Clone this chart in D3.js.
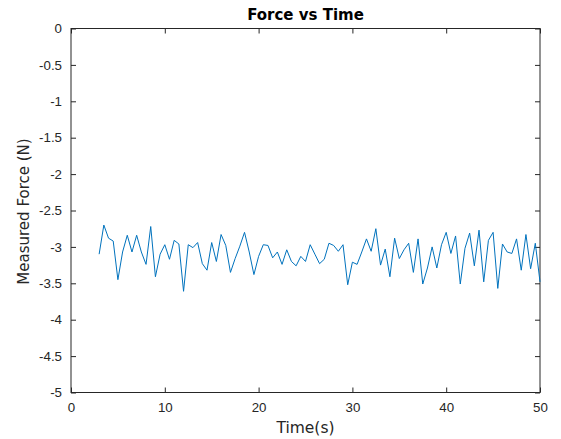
<!DOCTYPE html>
<html>
<head>
<meta charset="utf-8">
<script src="https://cdn.jsdelivr.net/npm/d3@7"></script>
<style>
  body { margin: 0; background: #fff; }
  svg { font-family: "DejaVu Sans", sans-serif; }
</style>
</head>
<body>
<div id="chart"></div>
<script>
// data
const times = [3, 3.5, 4, 4.5, 5, 5.5, 6, 6.5, 7, 7.5, 8, 8.5, 9, 9.5, 10, 10.5, 11, 11.5, 12, 12.5,
  13, 13.5, 14, 14.5, 15, 15.5, 16, 16.5, 17, 17.5, 18, 18.5, 19, 19.5, 20, 20.5, 21, 21.5, 22, 22.5,
  23, 23.5, 24, 24.5, 25, 25.5, 26, 26.5, 27, 27.5, 28, 28.5, 29, 29.5, 30, 30.5, 31, 31.5, 32, 32.5,
  33, 33.5, 34, 34.5, 35, 35.5, 36, 36.5, 37, 37.5, 38, 38.5, 39, 39.5, 40, 40.5, 41, 41.5, 42, 42.5,
  43, 43.5, 44, 44.5, 45, 45.5, 46, 46.5, 47, 47.5, 48, 48.5, 49, 49.5, 50];
const force = [-3.10, -2.70, -2.88, -2.92, -3.45, -3.07, -2.84, -3.07, -2.84, -3.07,
  -3.24, -2.72, -3.41, -3.10, -2.97, -3.17, -2.91, -2.96, -3.61, -2.97,
  -3.01, -2.94, -3.23, -3.32, -2.94, -3.20, -2.83, -2.98, -3.35, -3.16,
  -2.99, -2.80, -3.07, -3.38, -3.13, -2.97, -2.98, -3.15, -3.07, -3.24,
  -3.04, -3.20, -3.26, -3.13, -3.20, -2.97, -3.10, -3.23, -3.17, -2.95,
  -2.98, -3.06, -2.97, -3.52, -3.21, -3.24, -3.07, -2.89, -3.06, -2.75,
  -3.25, -3.03, -3.41, -2.88, -3.16, -3.04, -2.95, -3.35, -2.89, -3.51,
  -3.29, -3.00, -3.29, -2.97, -2.80, -3.09, -2.85, -3.51, -3.02, -2.81,
  -3.26, -2.77, -3.48, -2.91, -2.80, -3.57, -2.96, -3.07, -3.09, -2.89,
  -3.32, -2.83, -3.30, -2.95, -3.48];
const xTicks = [0, 10, 20, 30, 40, 50];
const yTicks = [0, -0.5, -1, -1.5, -2, -2.5, -3, -3.5, -4, -4.5, -5];

const width = 561;
const height = 439;
const margin = {top: 28.5, right: 21, bottom: 46.5, left: 71};
const xMax = width - margin.left - margin.right;
const yMax = height - margin.top - margin.bottom;
const axisColor = "#262626";

const svg = d3.select("#chart")
  .append("svg")
  .attr("width", width)
  .attr("height", height);

const g = svg.append("g")
  .attr("transform", "translate(" + margin.left + "," + margin.top + ")");

const x = d3.scaleLinear().domain([0, 50]).range([0, xMax]);
const y = d3.scaleLinear().domain([-5, 0]).range([yMax, 0]);

// axes, ticks pointing inward like matlab
function styleAxis(sel) {
  sel.select(".domain").remove();
  sel.selectAll(".tick line").attr("stroke", axisColor);
  sel.selectAll(".tick text").attr("fill", axisColor).style("font-size", "13.3px");
}

// plain hyphen for minus, like the original
const plain = function (d) { return String(d); };

g.append("g")
  .attr("transform", "translate(0," + yMax + ")")
  .call(d3.axisBottom(x).tickValues(xTicks).tickFormat(plain).tickSizeInner(-5).tickSizeOuter(0).tickPadding(10))
  .call(styleAxis);

g.append("g")
  .call(d3.axisLeft(y).tickValues(yTicks).tickFormat(plain).tickSizeInner(-5).tickSizeOuter(0).tickPadding(9))
  .call(styleAxis);

g.append("g")
  .call(d3.axisTop(x).tickValues(xTicks).tickSizeInner(-5).tickSizeOuter(0).tickFormat(""))
  .call(styleAxis);

g.append("g")
  .attr("transform", "translate(" + xMax + ",0)")
  .call(d3.axisRight(y).tickValues(yTicks).tickSizeInner(-5).tickSizeOuter(0).tickFormat(""))
  .call(styleAxis);

// box
g.append("rect")
  .attr("x", 0)
  .attr("y", 0)
  .attr("width", xMax)
  .attr("height", yMax)
  .attr("fill", "none")
  .attr("stroke", axisColor)
  .attr("stroke-width", 1);

// line
const line = d3.line()
  .x(function (d, i) { return x(times[i]); })
  .y(function (d) { return y(d); });

g.append("path")
  .datum(force)
  .attr("d", line)
  .attr("fill", "none")
  .attr("stroke", "#0072BD")
  .attr("stroke-width", 1);

// labels
svg.append("text")
  .attr("x", margin.left + xMax / 2)
  .attr("y", 20)
  .attr("text-anchor", "middle")
  .style("font-size", "15px")
  .style("font-weight", "bold")
  .attr("fill", "#000")
  .text("Force vs Time");

svg.append("text")
  .attr("x", margin.left + xMax / 2)
  .attr("y", 433)
  .attr("text-anchor", "middle")
  .style("font-size", "15.5px")
  .attr("fill", axisColor)
  .text("Time(s)");

svg.append("text")
  .attr("transform", "translate(29," + (margin.top + yMax / 2 + 1) + ") rotate(-90)")
  .attr("text-anchor", "middle")
  .style("font-size", "15px")
  .attr("fill", axisColor)
  .text("Measured Force (N)");
</script>
</body>
</html>
